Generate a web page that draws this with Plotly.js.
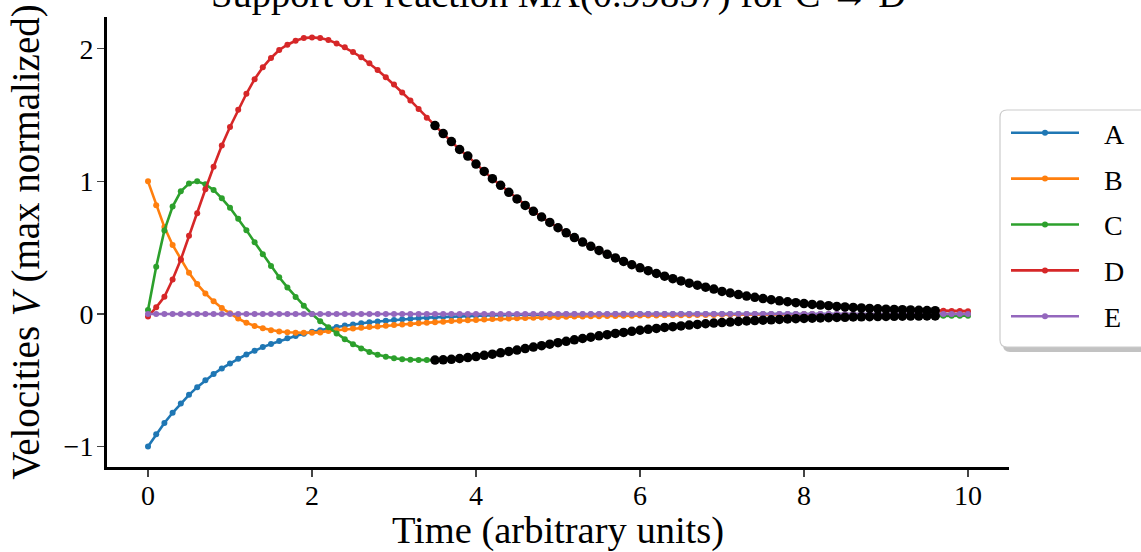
<!DOCTYPE html>
<html>
<head>
<meta charset="utf-8">
<script src="https://cdn.plot.ly/plotly-3.0.1.min.js"></script>
<style>html,body{margin:0;padding:0;background:#fff;}#chart{width:1141px;height:552px;}</style>
</head>
<body>
<div id="chart"></div>
<script>
// ---- data ----
const time = [0,0.1,0.2,0.3,0.4,0.5,0.6,0.7,0.8,0.9,1,1.1,1.2,1.3,1.4,1.5,1.6,1.7,1.8,1.9,2,2.1,2.2,2.3,2.4,2.5,2.6,2.7,2.8,2.9,3,3.1,3.2,3.3,3.4,3.5,3.6,3.7,3.8,3.9,4,4.1,4.2,4.3,4.4,4.5,4.6,4.7,4.8,4.9,5,5.1,5.2,5.3,5.4,5.5,5.6,5.7,5.8,5.9,6,6.1,6.2,6.3,6.4,6.5,6.6,6.7,6.8,6.9,7,7.1,7.2,7.3,7.4,7.5,7.6,7.7,7.8,7.9,8,8.1,8.2,8.3,8.4,8.5,8.6,8.7,8.8,8.9,9,9.1,9.2,9.3,9.4,9.5,9.6,9.7,9.8,9.9,10];

const seriesNames = ["A","B","C","D","E"];

const velA = [-1.0,-0.908,-0.822,-0.745,-0.675,-0.610,-0.552,-0.500,-0.453,-0.411,-0.373,-0.338,-0.306,-0.277,-0.250,-0.226,-0.204,-0.184,-0.166,-0.150,-0.135,-0.122,-0.109,-0.098,-0.088,-0.079,-0.071,-0.063,-0.057,-0.051,-0.045,-0.040,-0.036,-0.032,-0.028,-0.025,-0.022,-0.020,-0.017,-0.015,-0.013,-0.012,-0.010,-0.009,-0.008,-0.007,-0.006,-0.005,-0.005,-0.004,-0.004,-0.003,-0.003,-0.002,-0.002,-0.002,-0.002,-0.001,-0.001,-0.001,-0.001,-0.001,-0.001,-0.001,-0.001,-0.001,0,0,0,0,0,0,0,0,0,0,0,0,0,0,0,0,0,0,0,0,0,0,0,0,0,0,0,0,0,0,0,0,0,0,0];

const velB = [1.0,0.82,0.655,0.52,0.41,0.31,0.225,0.155,0.095,0.045,0.005,-0.035,-0.066,-0.090,-0.108,-0.122,-0.132,-0.138,-0.141,-0.142,-0.141,-0.139,-0.128,-0.122,-0.116,-0.110,-0.104,-0.099,-0.094,-0.089,-0.084,-0.079,-0.075,-0.070,-0.066,-0.062,-0.058,-0.054,-0.051,-0.048,-0.045,-0.042,-0.039,-0.037,-0.034,-0.032,-0.030,-0.028,-0.026,-0.024,-0.023,-0.021,-0.020,-0.019,-0.018,-0.017,-0.016,-0.015,-0.014,-0.013,-0.012,-0.011,-0.011,-0.010,-0.010,-0.009,-0.009,-0.008,-0.008,-0.007,-0.006,-0.006,-0.006,-0.005,-0.005,-0.005,-0.004,-0.004,-0.004,-0.004,-0.003,-0.003,-0.003,-0.003,-0.003,-0.002,-0.002,-0.002,-0.002,-0.002,-0.002,-0.002,-0.002,-0.001,-0.001,-0.001,-0.001,-0.001,-0.001,-0.001,-0.001];

const velC = [0.03,0.356,0.63,0.81,0.925,0.983,1.0,0.977,0.935,0.872,0.80,0.718,0.632,0.54,0.45,0.362,0.277,0.2,0.128,0.062,0.0,-0.055,-0.10,-0.148,-0.19,-0.228,-0.26,-0.287,-0.308,-0.323,-0.334,-0.341,-0.345,-0.347,-0.348,-0.348,-0.346,-0.342,-0.336,-0.329,-0.321,-0.312,-0.303,-0.293,-0.283,-0.272,-0.261,-0.250,-0.239,-0.228,-0.217,-0.206,-0.195,-0.185,-0.175,-0.165,-0.156,-0.147,-0.139,-0.131,-0.123,-0.116,-0.109,-0.102,-0.096,-0.090,-0.084,-0.079,-0.074,-0.069,-0.065,-0.061,-0.057,-0.053,-0.050,-0.047,-0.044,-0.041,-0.038,-0.036,-0.034,-0.032,-0.030,-0.028,-0.026,-0.025,-0.023,-0.022,-0.021,-0.020,-0.019,-0.018,-0.017,-0.016,-0.016,-0.015,-0.015,-0.014,-0.014,-0.013,-0.013];

const velD = [-0.02,0.05,0.13,0.26,0.41,0.59,0.76,0.94,1.11,1.27,1.41,1.54,1.66,1.77,1.86,1.93,1.99,2.03,2.06,2.08,2.085,2.08,2.065,2.04,2.01,1.975,1.935,1.89,1.84,1.785,1.73,1.67,1.61,1.545,1.48,1.42,1.36,1.30,1.24,1.19,1.13,1.075,1.02,0.97,0.917,0.867,0.818,0.774,0.731,0.69,0.65,0.612,0.576,0.542,0.51,0.479,0.45,0.422,0.396,0.371,0.348,0.326,0.305,0.285,0.266,0.249,0.232,0.217,0.202,0.188,0.170,0.158,0.146,0.135,0.125,0.116,0.107,0.099,0.092,0.085,0.078,0.072,0.067,0.062,0.057,0.053,0.049,0.045,0.042,0.039,0.036,0.034,0.032,0.030,0.028,0.026,0.025,0.024,0.023,0.022,0.021];

const velE = [0,0,0,0,0,0,0,0,0,0,0,0,0,0,0,0,0,0,0,0,0,0,0,0,0,0,0,0,0,0,0,0,0,0,0,0,0,0,0,0,0,0,0,0,0,0,0,0,0,0,0,0,0,0,0,0,0,0,0,0,0,0,0,0,0,0,0,0,0,0,0,0,0,0,0,0,0,0,0,0,0,0,0,0,0,0,0,0,0,0,0,0,0,0,0,0,0,0,0,0,0];

// time window where reaction MA supports C -> D
const supportWindow = [3.5, 9.6];
const supportSeries = ["C","D"];

const xTickVals = [0,2,4,6,8,10];
const yTickVals = [-1,0,1,2];
const titleText = "Support of reaction MA(0.99857) for C → D";

// ---- styling ----
const colors = {A:"#1f77b4",B:"#ff7f0e",C:"#2ca02c",D:"#d62728",E:"#9467bd"};
const FONT = "Liberation Serif, Times New Roman, serif";
const values = {A:velA,B:velB,C:velC,D:velD,E:velE};

const traces = seriesNames.map(n => ({
  x: time, y: values[n], name: n, type: "scatter", mode: "lines+markers",
  legendgroup: n,
  line: {color: colors[n], width: 2.6},
  marker: {color: colors[n], size: 6}
}));

supportSeries.forEach(n => {
  const xs = [], ys = [];
  time.forEach((t, i) => {
    if (t >= supportWindow[0] - 1e-9 && t <= supportWindow[1] + 1e-9) { xs.push(t); ys.push(values[n][i]); }
  });
  traces.push({x: xs, y: ys, type: "scatter", mode: "markers", showlegend: false,
    marker: {color: "#000000", size: 9.5}, hoverinfo: "skip"});
});

// plot area in px
const L = 107, R = 1010, T = 17, B = 467, W = 1141, H = 552;
const px2x = p => (p - L) / (R - L);
const py2y = p => (B - p) / (B - T);
function roundRect(x0, y0, x1, y1, r) {
  const rx = r / (R - L), ry = r / (B - T);
  const X0 = px2x(x0), X1 = px2x(x1), Y0 = py2y(y0), Y1 = py2y(y1);
  return `M${X0+rx},${Y0} L${X1-rx},${Y0} Q${X1},${Y0} ${X1},${Y0-ry} L${X1},${Y1+ry} Q${X1},${Y1} ${X1-rx},${Y1} L${X0+rx},${Y1} Q${X0},${Y1} ${X0},${Y1+ry} L${X0},${Y0-ry} Q${X0},${Y0} ${X0+rx},${Y0} Z`;
}

const layout = {
  width: W, height: H,
  margin: {l: L, r: W - R, t: T, b: H - B, pad: 0},
  paper_bgcolor: "#ffffff", plot_bgcolor: "#ffffff",
  font: {family: FONT, color: "#000000", size: 28},
  annotations: [{text: titleText, xref: "paper", yref: "paper", x: 0.5, y: 1, xanchor: "center", yanchor: "bottom",
                 yshift: -1, showarrow: false, font: {family: FONT, size: 38.5, color: "#000"}}],
  showlegend: true,
  legend: {x: px2x(1006), xanchor: "left", y: py2y(108), yanchor: "top",
           bgcolor: "rgba(0,0,0,0)", borderwidth: 0, tracegroupgap: 6.5,
           font: {family: FONT, size: 28, color: "#000"}, itemwidth: 88},
  xaxis: {range: [-0.5, 10.5], tickvals: xTickVals, ticks: "outside", ticklen: 7, tickwidth: 1.5,
          showline: true, linewidth: 3, linecolor: "#000", showgrid: false, zeroline: false,
          ticklabelstandoff: -6,
          tickfont: {family: FONT, size: 28, color: "#000"},
          title: {text: "Time (arbitrary units)", font: {family: FONT, size: 38.5, color: "#000"}, standoff: 6}},
  yaxis: {range: [-1.154, 2.239], tickvals: yTickVals, ticks: "outside", ticklen: 7, tickwidth: 1.5,
          showline: true, linewidth: 3, linecolor: "#000", showgrid: false, zeroline: false,
          ticklabelstandoff: -2,
          tickfont: {family: FONT, size: 28, color: "#000"},
          title: {text: "Velocities <i>V</i> (max normalized)", font: {family: FONT, size: 39, color: "#000"}, standoff: 12}},
  shapes: [
    {type: "path", xref: "paper", yref: "paper", layer: "above", path: roundRect(1004, 114, 1160, 352, 7),
     fillcolor: "rgba(120,120,120,0.45)", line: {width: 0}},
    {type: "path", xref: "paper", yref: "paper", layer: "above", path: roundRect(1001, 110, 1156, 347, 7),
     fillcolor: "#ffffff", line: {color: "#cccccc", width: 1.2}}
  ]
};

Plotly.newPlot("chart", traces, layout, {staticPlot: true, displayModeBar: false}).then(gd => {
  // lengthen legend sample lines to match the reference's longer handles
  gd.querySelectorAll(".legend .legendlines path").forEach(p => p.setAttribute("d", "M5,0h68"));
  gd.querySelectorAll(".legend .legendpoints path").forEach(p => p.setAttribute("transform", "translate(39,0)"));
});
</script>
</body>
</html>
